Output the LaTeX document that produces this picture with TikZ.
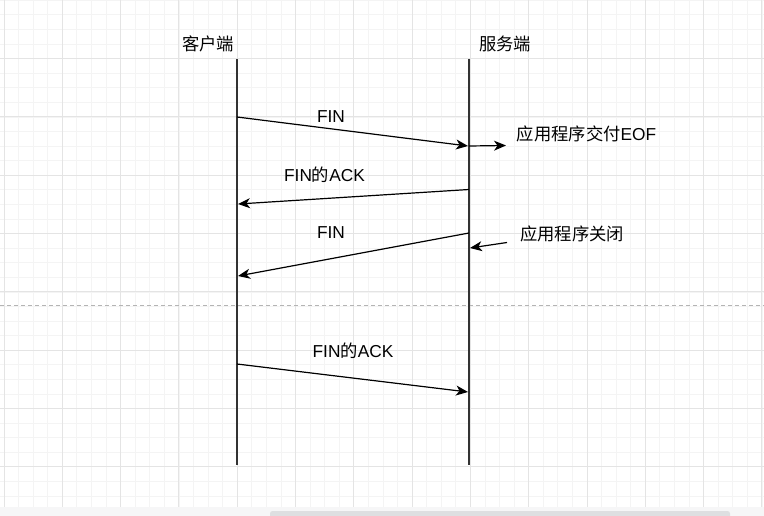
\documentclass[tikz,border=0pt]{standalone}
\usepackage{fontspec}
\setmainfont{Liberation Sans}
\newfontfamily\cjk{Noto Sans CJK SC}
\usetikzlibrary{arrows.meta}
\definecolor{gridmajor}{HTML}{E4E4E4}
\definecolor{gridminor}{HTML}{F4F4F4}
\definecolor{lifeclr}{HTML}{333333}
\definecolor{dashclr}{HTML}{B4B4B4}
\definecolor{stripclr}{HTML}{F6F6F7}
\definecolor{barclr}{HTML}{DEDFE1}
\tikzset{
  minorline/.style={draw=gridminor, line width=0.8pt},
  majorline/.style={draw=gridmajor, line width=0.9pt},
  lifeline/.style={draw=lifeclr, line width=1.6pt},
  msg/.style={draw=black, line width=1.2pt, -{Stealth[length=12pt,width=10pt,inset=3.5pt]}},
  lbl/.style={inner sep=0pt, font=\fontsize{17.3}{19}\selectfont},
}
\begin{document}
\begin{tikzpicture}[x=1pt,y=-1pt]
\useasboundingbox (0,0) rectangle (764,516);
\fill[white] (0,0) rectangle (764,516);
% grid
\foreach \k in {-1,...,53} {
  \pgfmathsetmacro\xx{4+14.575*\k}
  \draw[minorline] (\xx,0) -- (\xx,507);
}
\foreach \k in {0,...,34} {
  \pgfmathsetmacro\yy{0.3+14.58*\k}
  \draw[minorline] (0,\yy) -- (764,\yy);
}
\foreach \k in {0,...,13} {
  \pgfmathsetmacro\xx{4+58.3*\k}
  \draw[majorline] (\xx,0) -- (\xx,507);
}
\foreach \k in {1,...,8} {
  \pgfmathsetmacro\yy{0.3+58.32*\k}
  \draw[majorline] (0,\yy) -- (764,\yy);
}
% scroll strip
\fill[stripclr] (0,507) rectangle (764,516);
\fill[barclr, rounded corners=2.5pt] (270,511) rectangle (730,520);
% dashed separator
\coordinate (dL) at (0,305);
\coordinate (dR) at (764,305);
\draw[dashclr, line width=0.8pt, dash pattern=on 4pt off 3pt] (dL) -- (dR);
% headers
\node[lbl] (client) at (208,44) {\cjk 客户端};
\node[lbl] (server) at (505,44) {\cjk 服务端};
% lifelines
\coordinate (c0) at (237,59);
\coordinate (c1) at (237,465);
\coordinate (s0) at (469,59);
\coordinate (s1) at (469,465);
\draw[lifeline] (c0) -- (c1);
\draw[lifeline] (s0) -- (s1);
% message endpoints
\coordinate (m1a) at (237,117);
\coordinate (m1b) at (468,146);
\coordinate (m2a) at (469,146);
\coordinate (m2b) at (506,145.5);
\coordinate (m3a) at (469,189.5);
\coordinate (m3b) at (238,204);
\coordinate (m4a) at (469,233);
\coordinate (m4b) at (238,276);
\coordinate (m5a) at (507,242.5);
\coordinate (m5b) at (470,248);
\coordinate (m6a) at (237,364);
\coordinate (m6b) at (468,392);
\draw[msg] (m1a) -- (m1b);
\draw[msg] (m2a) -- (m2b);
\draw[msg] (m3a) -- (m3b);
\draw[msg] (m4a) -- (m4b);
\draw[msg] (m5a) -- (m5b);
\draw[msg] (m6a) -- (m6b);
% labels
\node[lbl] (l1) at (331,117) {FIN};
\node[lbl] (l2) at (586.5,134) {\cjk 应用程序交付\rmfamily EOF};
\node[lbl] (l3) at (324.5,175) {FIN{\cjk 的}ACK};
\node[lbl] (l4) at (331,233) {FIN};
\node[lbl] (l5) at (572,234) {\cjk 应用程序关闭};
\node[lbl] (l6) at (353,351) {FIN{\cjk 的}ACK};
\end{tikzpicture}
\end{document}
